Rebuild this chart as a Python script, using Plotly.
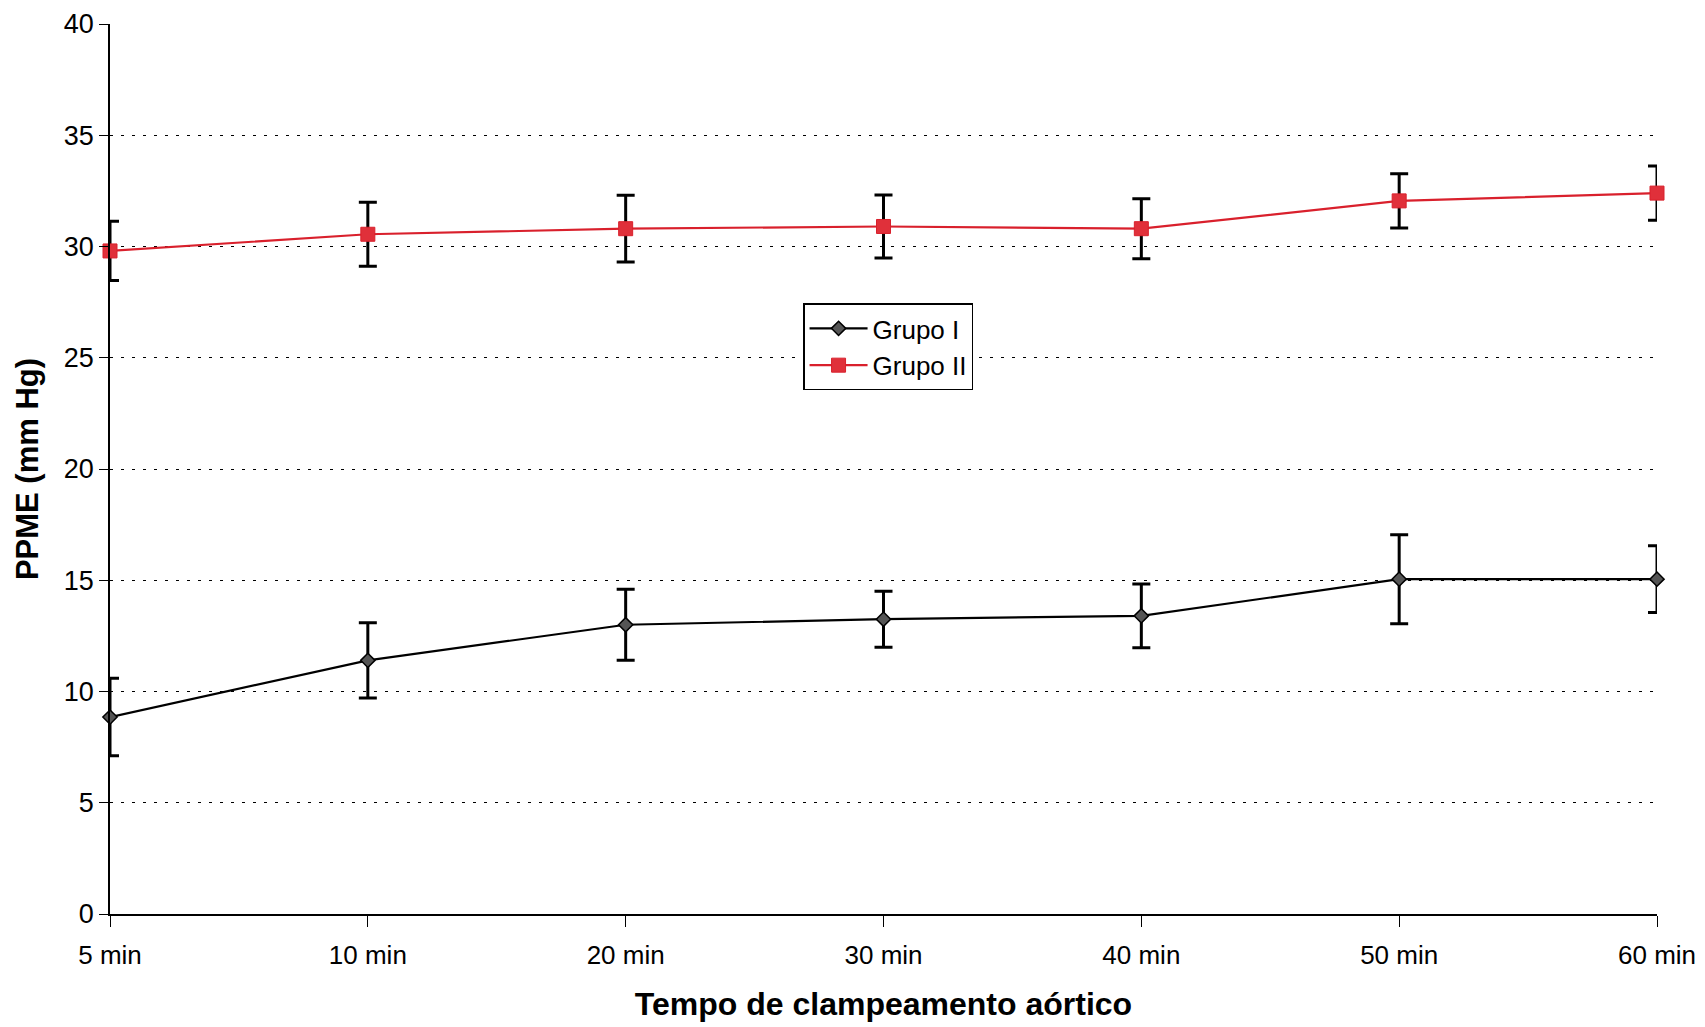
import plotly.graph_objects as go

categories = ["5 min", "10 min", "20 min", "30 min", "40 min", "50 min", "60 min"]
grupo1 = [8.85, 11.4, 13.0, 13.25, 13.4, 15.05, 15.05]
grupo1_err = [1.74, 1.69, 1.59, 1.26, 1.43, 2.0, 1.5]
grupo2 = [29.8, 30.55, 30.8, 30.9, 30.8, 32.05, 32.4]
grupo2_err = [1.33, 1.44, 1.5, 1.42, 1.35, 1.22, 1.22]
yticks = [0, 5, 10, 15, 20, 25, 30, 35, 40]

xpos = list(range(len(categories)))
font_family = "Liberation Sans, Arial, sans-serif"

fig = go.Figure()
fig.add_trace(go.Scatter(
    x=xpos, y=grupo1, name="Grupo I", mode="lines+markers",
    line=dict(color="black", width=2.2),
    marker=dict(symbol="diamond", size=11, color="#555555", line=dict(color="black", width=1.5)),
    error_y=dict(type="data", array=grupo1_err, visible=True, color="black", thickness=3, width=9),
    cliponaxis=False,
))
fig.add_trace(go.Scatter(
    x=xpos, y=grupo2, name="Grupo II", mode="lines+markers",
    line=dict(color="#d9202c", width=2.2),
    marker=dict(symbol="square", size=14, color="#e0303a", line=dict(color="#d9202c", width=1)),
    error_y=dict(type="data", array=grupo2_err, visible=True, color="black", thickness=3, width=9),
    cliponaxis=False,
))

fig.update_layout(
    width=1705, height=1027,
    margin=dict(l=110, r=48, t=24, b=113),
    paper_bgcolor="white", plot_bgcolor="white",
    font=dict(family=font_family, size=26, color="black"),
    showlegend=True,
    legend=dict(
        x=0.448, y=0.686, xanchor="left", yanchor="top",
        bgcolor="white", bordercolor="black", borderwidth=1.5,
        font=dict(size=26), tracegroupgap=0, itemwidth=58,
    ),
    xaxis=dict(
        range=[0, 6], tickmode="array", tickvals=xpos, ticktext=categories,
        showline=True, linecolor="black", linewidth=1.5,
        ticks="outside", ticklen=11, tickcolor="black", tickwidth=1,
        ticklabelstandoff=6, automargin="bottom",
        showgrid=False, zeroline=False,
        title=dict(text="<b>Tempo de clampeamento aórtico</b>", font=dict(size=32), standoff=24),
        tickfont=dict(size=26),
    ),
    yaxis=dict(
        range=[0, 40], tickmode="array", tickvals=yticks,
        showline=True, linecolor="black", linewidth=1.5,
        ticks="outside", ticklen=9, tickcolor="black", tickwidth=1,
        automargin="left",
        showgrid=True, gridcolor="black", gridwidth=1, griddash="3px,8px",
        zeroline=False,
        title=dict(text="<b>PPME (mm Hg)</b>", font=dict(size=31), standoff=16),
        tickfont=dict(size=27),
    ),
)

fig.write_html("out.html")
